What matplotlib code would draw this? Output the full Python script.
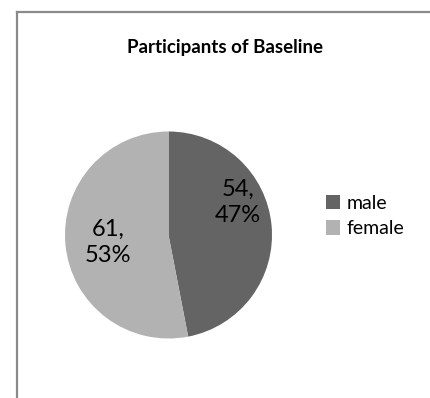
import matplotlib
matplotlib.use('Agg')
import matplotlib.pyplot as plt
from matplotlib.lines import Line2D
from matplotlib.patches import Patch

plt.rcParams['font.family'] = ['Lato', 'DejaVu Sans']

title = 'Participants of Baseline'
labels = ['male', 'female']
counts = [54, 61]
colors = ['#646464', '#b2b2b2']

W, H = 430, 398
fig = plt.figure(figsize=(W / 100, H / 100), dpi=100)

# chart frame (left and top edges visible)
fig.add_artist(Line2D([17 / W, 17 / W], [0, 1 - 12 / H], color='#8a8a8a', lw=1.6))
fig.add_artist(Line2D([17 / W, 1], [1 - 12 / H, 1 - 12 / H], color='#8a8a8a', lw=1.6))

fig.text(225 / W, 1 - 47 / H, title, ha='center', va='center',
         fontsize=13.5, fontweight='bold')

# pie area
cx, cy, r = 168.5, 235, 103.5
ax = fig.add_axes([(cx - r) / W, 1 - (cy + r) / H, 2 * r / W, 2 * r / H])
ax.pie(counts, colors=colors, startangle=90, counterclock=False,
       wedgeprops=dict(linewidth=0))
ax.set_xlim(-1, 1)
ax.set_ylim(-1, 1)
ax.axis('off')

total = sum(counts)
label_pos = [(238, 202), (108, 242)]
for n, (px, py) in zip(counts, label_pos):
    pct = round(100 * n / total)
    fig.text(px / W, 1 - py / H, f'{n},\n{pct}%', ha='center', va='center',
             fontsize=17, linespacing=1.3)

handles = [Patch(facecolor=c, edgecolor='none') for c in colors]
fig.legend(handles, labels, loc='center left',
           bbox_to_anchor=(318 / W, 1 - 216 / H), frameon=False,
           fontsize=14, handlelength=0.75, handleheight=0.75,
           handletextpad=0.3, labelspacing=0.45, borderaxespad=0)

fig.savefig('out.png', dpi=100)
